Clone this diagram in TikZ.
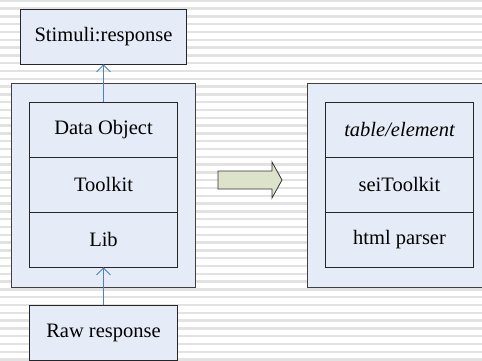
\documentclass[tikz,border=0pt]{standalone}
\usepackage{fontspec}
\setmainfont{Liberation Serif}
\usetikzlibrary{arrows.meta,positioning}
\definecolor{bf}{RGB}{230,236,247}
\definecolor{af}{RGB}{221,226,203}
\definecolor{lk}{RGB}{79,129,189}
\definecolor{st}{RGB}{226,226,226}
\tikzset{blk/.style={draw=black!85,fill=bf,line width=.8pt,minimum width=148pt,minimum height=55pt,inner sep=0pt,font=\fontsize{20.5}{24}\selectfont},
 outer/.style={draw=black!75,fill=bf,line width=.8pt,inner sep=0pt,minimum height=204pt},
 link/.style={draw=lk,line width=.8pt,-{Straight Barb[length=7pt,width=14pt]}},
 stripe/.style={st,line width=2.4pt},
 bigarr/.style={draw=black!80,fill=af,line width=.8pt}}
\begin{document}
\begin{tikzpicture}[x=1pt,y=1pt]
\clip (0,0) rectangle (482,360);
\fill[white] (0,0) rectangle (482,360);
\foreach \k in {0,...,46}{\draw[stripe] (0,359.3-7.8*\k)--(482,359.3-7.8*\k);}
% left: layered stack
\node[outer,minimum width=184pt] (lbox) at (103.5,175) {};
\node[blk,minimum width=166pt] (stim) at (103.5,323.5) {Stimuli:response};
\node[blk] (dobj) at (103.5,230.5) {Data Object};
\node[blk] (tkit) at (103.5,175.5) {Toolkit};
\node[blk] (lib) at (103.5,120.5) {Lib};
\node[blk] (raw) at (103.5,27) {Raw response};
\draw[link] (raw)--(lib);\draw[link] (dobj)--(stim);
% right: concrete stack
\node[outer,minimum width=182pt] (rbox) at (398,175) {};
\node[blk] (tbl) at (399.5,230.5) {\itshape table/element};
\node[blk] (sei) at (399.5,175.5) {seiToolkit};
\node[blk] (html) at (399.5,120.5) {html parser};
% block arrow between the stacks
\draw[bigarr] (218,171)--(272,171)--(272,162)--(282,180)--(272,198)--(272,189)--(218,189)--cycle;
\end{tikzpicture}
\end{document}
